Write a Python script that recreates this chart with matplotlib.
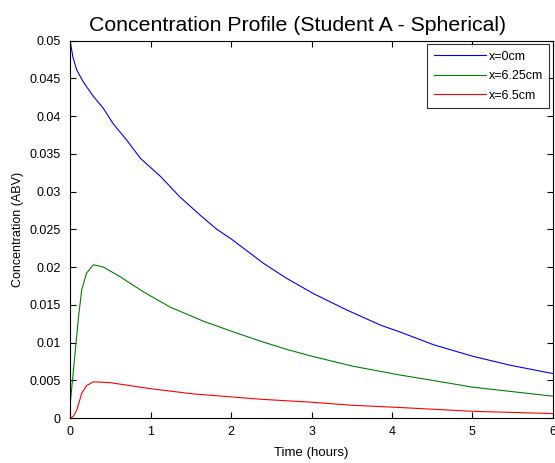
import matplotlib
matplotlib.use('Agg')
import matplotlib.pyplot as plt

plt.rcParams['font.family'] = ['Liberation Sans', 'DejaVu Sans']

# values (time in hours, concentration in ABV)
t_blue = [0.0, 0.03, 0.078, 0.16, 0.285, 0.41, 0.53, 0.70, 0.87, 1.12, 1.36, 1.61, 1.82,
          1.99, 2.40, 2.69, 3.02, 3.44, 3.86, 4.10, 4.52, 5.0, 5.47, 6.0]
c_blue = [0.0497, 0.0478, 0.0461, 0.0445, 0.0426, 0.0410, 0.0390, 0.0368, 0.0344, 0.0320,
          0.0293, 0.0269, 0.0250, 0.0238, 0.0205, 0.0185, 0.0165, 0.0143, 0.0123, 0.0114,
          0.0097, 0.0082, 0.0070, 0.0059]

t_green = [0.0, 0.02, 0.057, 0.10, 0.14, 0.20, 0.285, 0.41, 0.62, 0.91, 1.24, 1.66, 2.03,
           2.36, 2.69, 3.0, 3.5, 4.10, 4.5, 5.0, 5.5, 6.0]
c_green = [0.0022, 0.0045, 0.0086, 0.0134, 0.0170, 0.0192, 0.0203, 0.0200, 0.0187, 0.0167,
           0.0147, 0.0128, 0.0114, 0.0102, 0.0091, 0.0082, 0.0069, 0.0057, 0.0050, 0.0041,
           0.0035, 0.0029]

t_red = [0.0, 0.04, 0.08, 0.14, 0.20, 0.285, 0.49, 0.99, 1.53, 2.36, 3.0, 3.5, 4.10, 5.0, 6.0]
c_red = [0.0, 0.0003, 0.0011, 0.0033, 0.0043, 0.0048, 0.0047, 0.0039, 0.0032, 0.0025,
         0.0021, 0.0017, 0.0014, 0.0009, 0.0006]

labels = ['x=0cm', 'x=6.25cm', 'x=6.5cm']

fig = plt.figure(figsize=(5.55, 4.63), dpi=100)
ax = fig.add_axes([0.127, 0.097, 0.869, 0.8155])

ax.plot(t_blue, c_blue, color=(0, 0, 1), lw=0.8, label=labels[0])
ax.plot(t_green, c_green, color=(0, 0.5, 0), lw=0.8, label=labels[1])
ax.plot(t_red, c_red, color=(1, 0, 0), lw=0.8, label=labels[2])

ax.set_xlim(0, 6)
ax.set_ylim(0, 0.05)
ax.set_xticks(range(7))
ax.set_yticks([i * 0.005 for i in range(11)])
ax.set_yticklabels(['0', '0.005', '0.01', '0.015', '0.02', '0.025', '0.03',
                    '0.035', '0.04', '0.045', '0.05'])
ax.tick_params(direction='in', top=True, right=True, length=4, width=0.8,
               labelsize=9)
ax.tick_params(axis='x', pad=6)
ax.tick_params(axis='y', pad=7)
for s in ax.spines.values():
    s.set_linewidth(0.8)

ax.set_xlabel('Time (hours)', fontsize=9.5, labelpad=6)
ax.set_ylabel('Concentration (ABV)', fontsize=9, labelpad=4)
ax.set_title('Concentration Profile (Student A - Spherical)', fontsize=15.3,
             x=0.47, pad=7)

leg = ax.legend(loc='upper right', fontsize=9, frameon=True, fancybox=False,
                edgecolor='black', handlelength=4.2, handletextpad=0.2,
                borderpad=0.5, labelspacing=0.6, borderaxespad=0.3)
leg.get_frame().set_linewidth(0.8)

fig.savefig('out.png', dpi=100)
